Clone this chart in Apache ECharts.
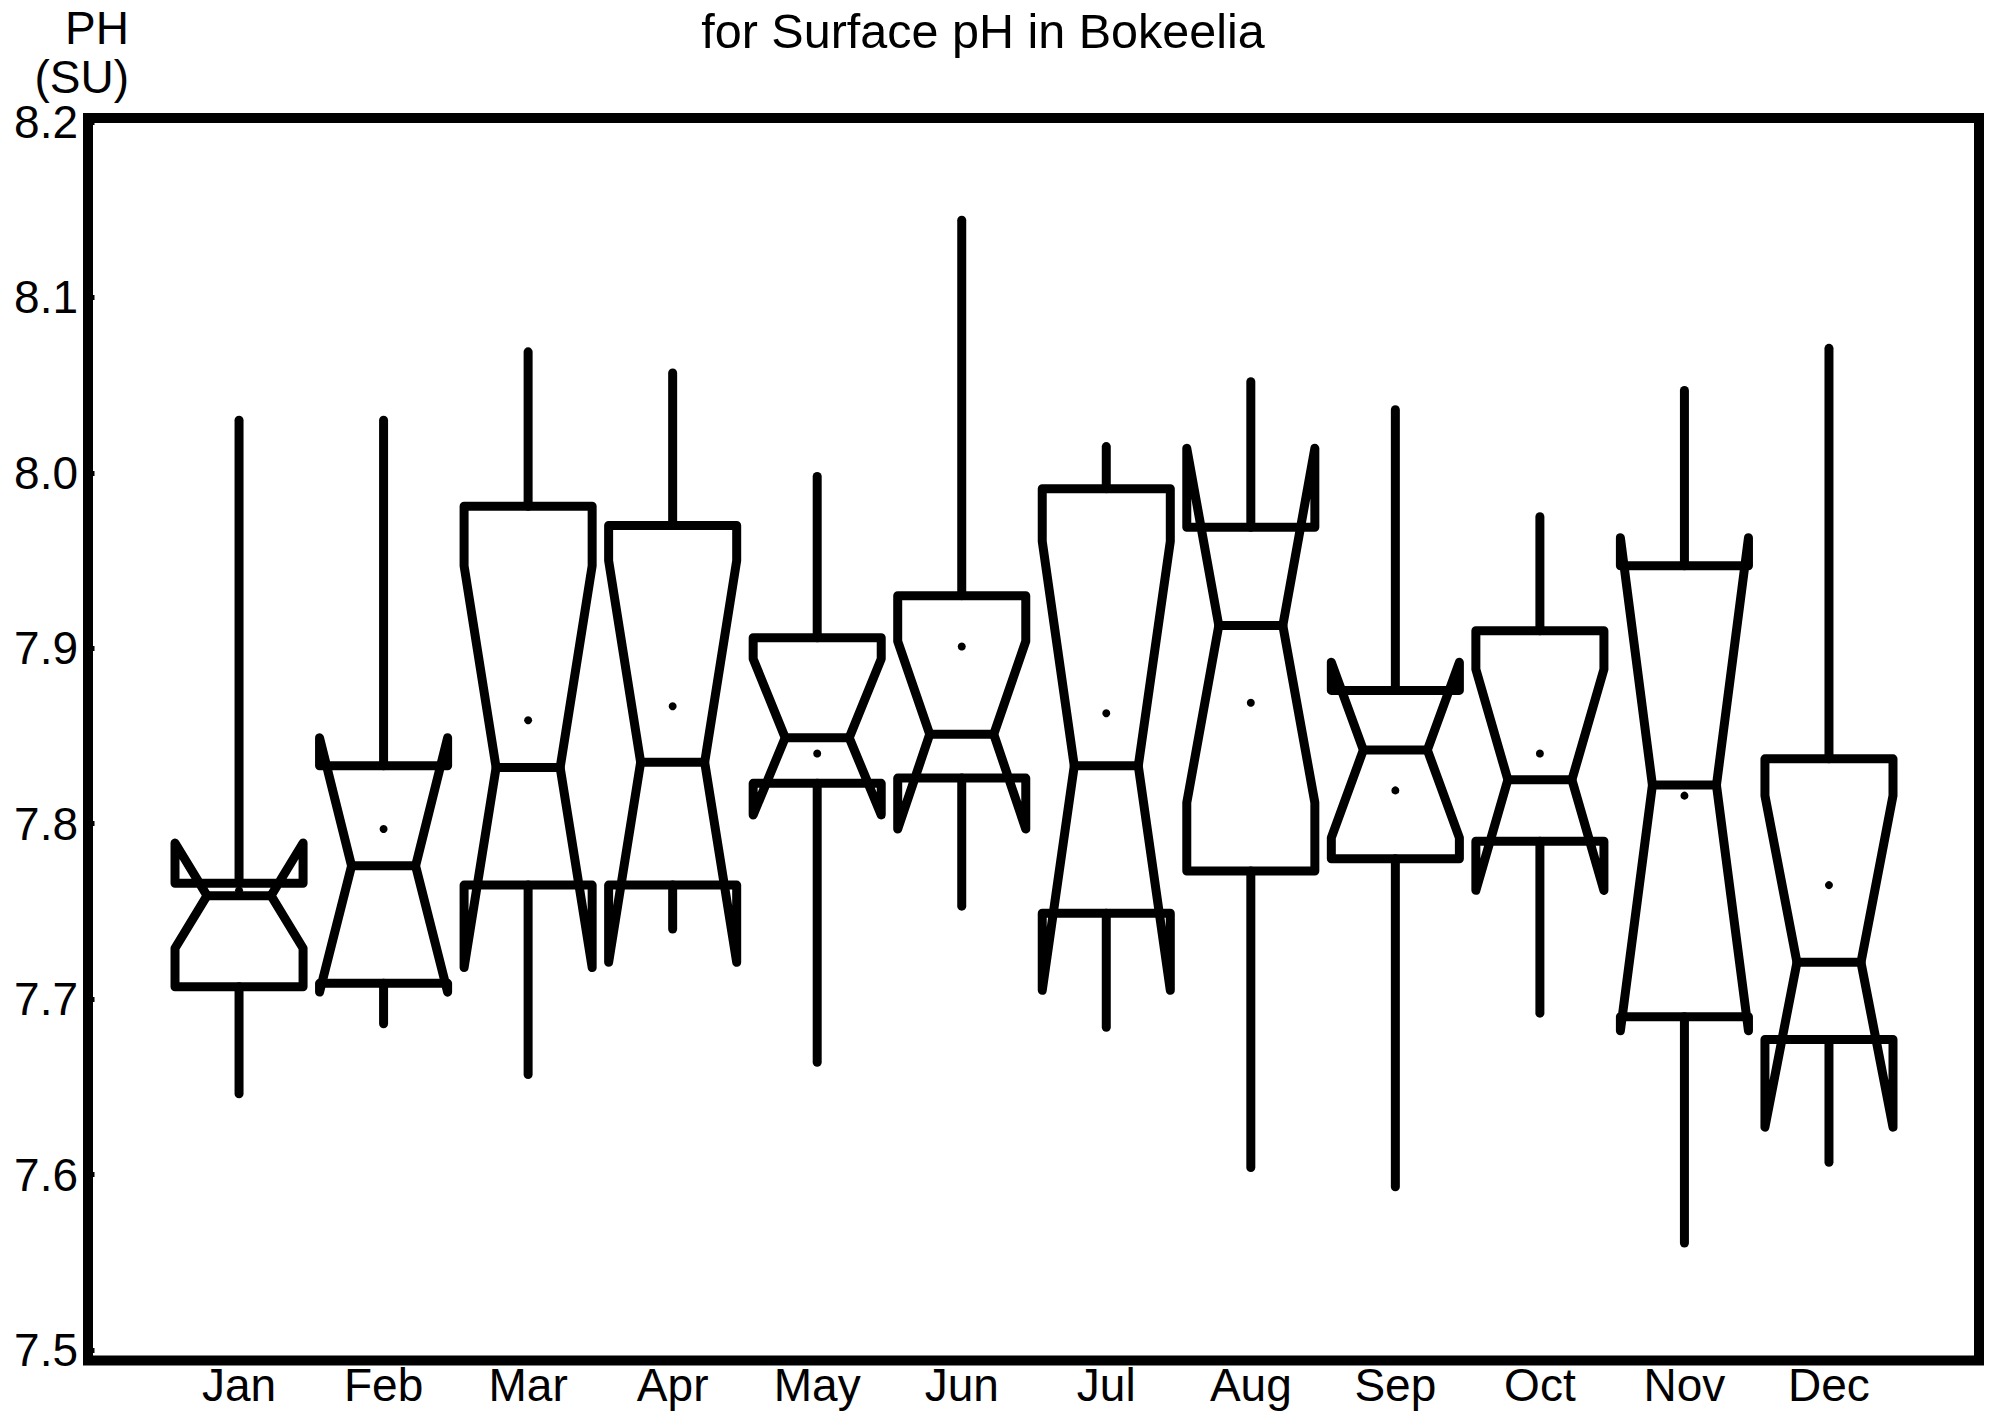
<!DOCTYPE html>
<html>
<head>
<meta charset="utf-8">
<title>Surface pH in Bokeelia</title>
<script src="https://cdn.jsdelivr.net/npm/echarts@6/dist/echarts.min.js"></script>
<style>
  html, body { margin: 0; padding: 0; background: #ffffff; }
  #chart { width: 1996px; height: 1413px; }
</style>
</head>
<body>
<div id="chart"></div>
<script>
// Monthly notched box plot statistics for surface pH (SU)
const months      = ['Jan', 'Feb', 'Mar', 'Apr', 'May', 'Jun', 'Jul', 'Aug', 'Sep', 'Oct', 'Nov', 'Dec'];
const whiskerHigh = [8.030, 8.030, 8.069, 8.057, 7.998, 8.144, 8.015, 8.052, 8.036, 7.975, 8.047, 8.071];
const q3          = [7.766, 7.833, 7.981, 7.970, 7.906, 7.930, 7.991, 7.969, 7.876, 7.910, 7.947, 7.837];
const notchHigh   = [7.789, 7.849, 7.947, 7.950, 7.894, 7.904, 7.961, 8.014, 7.892, 7.888, 7.963, 7.816];
const median      = [7.759, 7.776, 7.832, 7.835, 7.849, 7.851, 7.833, 7.913, 7.842, 7.825, 7.822, 7.721];
const notchLow    = [7.729, 7.704, 7.718, 7.721, 7.805, 7.797, 7.705, 7.812, 7.792, 7.762, 7.682, 7.627];
const q1          = [7.707, 7.709, 7.765, 7.765, 7.823, 7.826, 7.749, 7.773, 7.780, 7.790, 7.690, 7.677];
const whiskerLow  = [7.646, 7.686, 7.657, 7.740, 7.664, 7.753, 7.684, 7.604, 7.593, 7.692, 7.561, 7.607];
const mean        = [7.762, 7.797, 7.859, 7.867, 7.840, 7.901, 7.863, 7.869, 7.819, 7.840, 7.816, 7.765];

const yTicks = [7.5, 7.6, 7.7, 7.8, 7.9, 8.0, 8.1, 8.2];
const monthPositions = months.map((m, i) => i + 1);

const FONT = '"Liberation Sans", Arial, Helvetica, sans-serif';
const INK = '#000000';
const LW = 9;

const boxData = months.map((m, i) => [
  i + 1, whiskerLow[i], q1[i], notchLow[i], median[i], notchHigh[i], q3[i], whiskerHigh[i], mean[i]
]);

function renderNotchedBox(params, api) {
  const pos = api.value(0);
  const wLo = api.value(1), lo = api.value(2), nLo = api.value(3), med = api.value(4);
  const nHi = api.value(5), hi = api.value(6), wHi = api.value(7), avg = api.value(8);
  const y = v => api.coord([pos, v])[1];
  const cx = api.coord([pos, med])[0];
  const step = api.size([1, 0])[0];
  const hw = step * 0.443;      // half box width
  const nw = hw * 0.5;          // half width at the notch waist
  const L = cx - hw, R = cx + hw, NL = cx - nw, NR = cx + nw;
  const stroke = { stroke: INK, lineWidth: LW, fill: null, lineJoin: 'round', lineCap: 'round' };

  return {
    type: 'group',
    children: [
      { type: 'line', shape: { x1: cx, y1: y(hi), x2: cx, y2: y(wHi) }, style: stroke },
      { type: 'line', shape: { x1: cx, y1: y(lo), x2: cx, y2: y(wLo) }, style: stroke },
      {
        type: 'polygon',
        shape: {
          points: [
            [L, y(lo)], [L, y(nLo)], [NL, y(med)], [L, y(nHi)], [L, y(hi)],
            [R, y(hi)], [R, y(nHi)], [NR, y(med)], [R, y(nLo)], [R, y(lo)]
          ]
        },
        style: stroke
      },
      { type: 'line', shape: { x1: NL, y1: y(med), x2: NR, y2: y(med) }, style: stroke },
      { type: 'circle', shape: { cx: cx, cy: y(avg), r: 4 }, style: { fill: INK, stroke: null } }
    ]
  };
}

const chart = echarts.init(document.getElementById('chart'), null, { renderer: 'svg' });

chart.setOption({
  backgroundColor: '#ffffff',
  animation: false,
  graphic: [
    { type: 'text', style: { text: 'for Surface pH in Bokeelia', x: 983, y: 31, textAlign: 'center', textVerticalAlign: 'middle', font: '48.5px ' + FONT, fill: INK } },
    { type: 'text', style: { text: 'PH', x: 129, y: 28, textAlign: 'right', textVerticalAlign: 'middle', font: '46px ' + FONT, fill: INK } },
    { type: 'text', style: { text: '(SU)', x: 129, y: 77, textAlign: 'right', textVerticalAlign: 'middle', font: '46px ' + FONT, fill: INK } }
  ],
  grid: {
    left: 88, right: 17, top: 118, bottom: 52.5,
    show: true, borderColor: INK, borderWidth: 10, backgroundColor: 'transparent'
  },
  xAxis: {
    type: 'value',
    min: -0.045, max: 13.038,
    axisLine: { show: false },
    axisTick: { show: false },
    splitLine: { show: false },
    axisLabel: {
      customValues: monthPositions,
      formatter: v => months[Math.round(v) - 1] || '',
      color: INK, fontFamily: FONT, fontSize: 46, margin: 1
    }
  },
  yAxis: {
    type: 'value',
    min: 7.494, max: 8.2023,
    axisLine: { show: false },
    splitLine: { show: false },
    axisTick: { show: true, customValues: yTicks, length: 5, lineStyle: { color: INK, width: 5 } },
    axisLabel: {
      customValues: yTicks,
      formatter: v => v.toFixed(1),
      color: INK, fontFamily: FONT, fontSize: 46, margin: 10,
      verticalAlign: 'middle', padding: [0, 0, 12, 0]
    }
  },
  series: [{
    type: 'custom',
    name: 'pH',
    renderItem: renderNotchedBox,
    data: boxData,
    encode: { x: 0, y: [1, 2, 3, 4, 5, 6, 7, 8] },
    clip: false
  }]
});
</script>
</body>
</html>
